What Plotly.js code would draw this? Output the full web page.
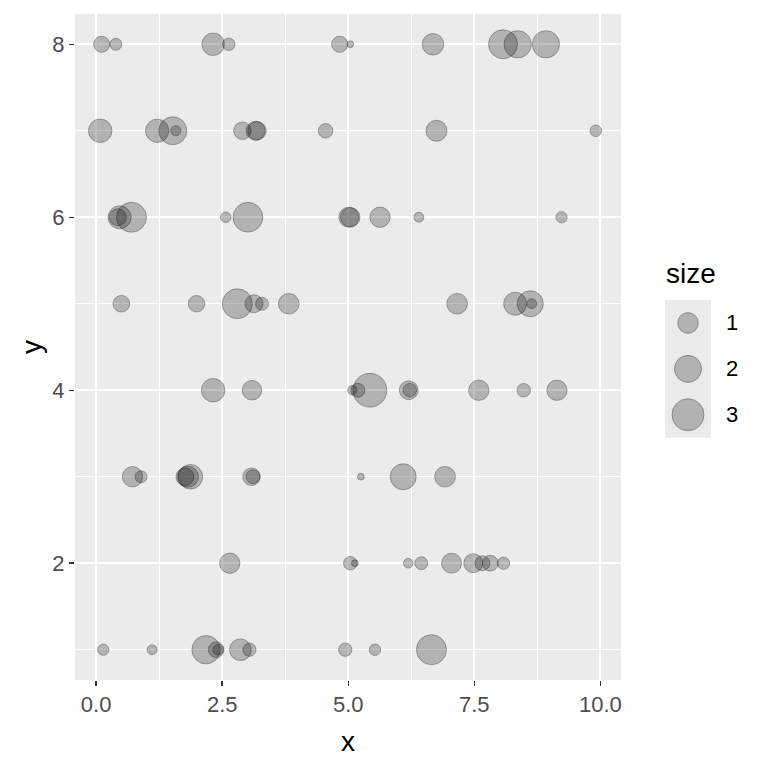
<!DOCTYPE html>
<html><head><meta charset="utf-8">
<script src="https://cdn.plot.ly/plotly-3.0.1.min.js"></script>
<style>html,body{margin:0;padding:0;background:#fff}</style>
</head><body><div id="chart" style="width:768px;height:768px"></div>
<script>
// data: x, y, size (one entry per point)
const xVals = [
  0.11, 0.39, 2.32, 2.63, 4.83, 5.04, 6.68, 8.07, 8.36, 8.92,
  0.08, 1.21, 1.52, 1.58, 2.90, 3.16, 3.19, 4.55, 6.75, 9.91,
  0.43, 0.465, 0.70, 2.57, 3.01, 5.01, 5.04, 5.63, 6.40, 9.23,
  0.50, 1.99, 2.80, 3.13, 3.29, 3.82, 7.16, 8.31, 8.61, 8.64,
  2.32, 3.09, 5.08, 5.19, 5.43, 6.20, 6.22, 7.59, 8.48, 9.14,
  0.72, 0.89, 1.76, 1.82, 1.87, 3.08, 3.11, 5.25, 6.09, 6.92,
  2.65, 5.04, 5.13, 6.19, 6.45, 7.05, 7.48, 7.66, 7.82, 8.08,
  0.14, 1.11, 2.18, 2.38, 2.42, 2.86, 3.04, 4.94, 5.53, 6.65
];
const yVals = [
  8, 8, 8, 8, 8, 8, 8, 8, 8, 8,
  7, 7, 7, 7, 7, 7, 7, 7, 7, 7,
  6, 6, 6, 6, 6, 6, 6, 6, 6, 6,
  5, 5, 5, 5, 5, 5, 5, 5, 5, 5,
  4, 4, 4, 4, 4, 4, 4, 4, 4, 4,
  3, 3, 3, 3, 3, 3, 3, 3, 3, 3,
  2, 2, 2, 2, 2, 2, 2, 2, 2, 2,
  1, 1, 1, 1, 1, 1, 1, 1, 1, 1
];
const sizeVals = [
  0.49, 0.19, 1.25, 0.22, 0.49, 0.01, 1.11, 2.36, 2.03, 2.03,
  1.39, 1.36, 2.16, 0.10, 0.63, 0.79, 0.74, 0.36, 1.04, 0.17,
  0.58, 1.32, 2.56, 0.12, 2.52, 0.91, 0.85, 0.95, 0.09, 0.15,
  0.55, 0.53, 2.56, 0.68, 0.25, 1.00, 1.00, 1.32, 1.80, 0.09,
  1.39, 0.86, 0.07, 0.32, 3.40, 0.77, 0.29, 0.95, 0.29, 0.95,
  0.95, 0.19, 0.68, 1.04, 1.55, 0.63, 0.32, 0.01, 1.80, 1.00,
  0.95, 0.29, 0.01, 0.08, 0.25, 0.91, 0.79, 0.40, 0.46, 0.21,
  0.15, 0.09, 2.24, 0.46, 0.12, 1.13, 0.27, 0.27, 0.16, 2.56
];
const legendSizes = [1, 2, 3];
const xTickVals = [0, 2.5, 5, 7.5, 10];
const xTickText = ["0.0", "2.5", "5.0", "7.5", "10.0"];
const xMinorVals = [1.25, 3.75, 6.25, 8.75];
const yTickVals = [2, 4, 6, 8];
const yTickText = ["2", "4", "6", "8"];
const yMinorVals = [1, 3, 5, 7];

const FONT = "Liberation Sans, Arial, sans-serif";
const LW = 1;
// area-like size scale (diameter in px)
function diam(s) { return 6.2 + 15.5 * Math.sqrt(s); }
const fillC = "rgba(0,0,0,0.34)";
const lineC = "rgba(0,0,0,0.45)";

const W = 768, H = 768;
const plotL = 75, plotR = 621, plotT = 14, plotB = 680;

const main = {
  type: "scatter", mode: "markers",
  x: xVals, y: yVals, xaxis: "x", yaxis: "y",
  marker: {
    size: sizeVals.map(s => diam(s) - LW),
    color: fillC,
    line: { color: lineC, width: LW }
  },
  hoverinfo: "x+y"
};

const legendTrace = {
  type: "scatter", mode: "markers",
  x: legendSizes.map(() => 0.5), y: legendSizes, xaxis: "x2", yaxis: "y2",
  marker: {
    size: legendSizes.map(s => diam(s) - LW),
    color: fillC,
    line: { color: lineC, width: LW }
  },
  hoverinfo: "skip"
};

const annotations = [
  { text: "x", xref: "paper", yref: "paper", x: (plotL + plotR) / 2 / W, y: 1 - 741 / H,
    xanchor: "center", yanchor: "middle", showarrow: false,
    font: { family: FONT, size: 28, color: "#000" } },
  { text: "y", xref: "paper", yref: "paper", x: 31 / W, y: 1 - ((plotT + plotB) / 2) / H,
    xanchor: "center", yanchor: "middle", textangle: -90, showarrow: false,
    font: { family: FONT, size: 28, color: "#000" } },
  { text: "size", xref: "paper", yref: "paper", x: 664 / W, y: 1 - 274 / H,
    xanchor: "left", yanchor: "middle", showarrow: false,
    font: { family: FONT, size: 28, color: "#000" } }
];
legendSizes.forEach(s => annotations.push({
  text: String(s), xref: "paper", yref: "y2", x: 724 / W, y: s,
  xanchor: "left", yanchor: "middle", showarrow: false,
  font: { family: FONT, size: 22, color: "#000" }
}));

const layout = {
  width: W, height: H,
  margin: { l: 0, r: 0, t: 0, b: 0 },
  paper_bgcolor: "#FFFFFF",
  plot_bgcolor: "#EBEBEB",
  showlegend: false,
  font: { family: FONT },
  xaxis: {
    domain: [plotL / W, plotR / W], anchor: "y",
    range: [-0.42, 10.41],
    tickmode: "array", tickvals: xTickVals, ticktext: xTickText,
    ticks: "outside", ticklen: 5, tickwidth: 1.5, tickcolor: "#333333",
    tickfont: { family: FONT, size: 22, color: "#4D4D4D" },
    showgrid: true, gridcolor: "#FFFFFF", gridwidth: 2,
    minor: { tickmode: "array", tickvals: xMinorVals, showgrid: true, gridcolor: "#FFFFFF", gridwidth: 1, ticks: "" },
    zeroline: false, showline: false
  },
  yaxis: {
    domain: [1 - plotB / H, 1 - plotT / H], anchor: "x",
    range: [0.65, 8.35],
    tickmode: "array", tickvals: yTickVals, ticktext: yTickText,
    ticks: "outside", ticklen: 5, tickwidth: 1.5, tickcolor: "#333333",
    tickfont: { family: FONT, size: 22, color: "#4D4D4D" },
    showgrid: true, gridcolor: "#FFFFFF", gridwidth: 2,
    minor: { tickmode: "array", tickvals: yMinorVals, showgrid: true, gridcolor: "#FFFFFF", gridwidth: 1, ticks: "" },
    zeroline: false, showline: false
  },
  xaxis2: {
    domain: [665 / W, 711 / W], anchor: "y2", range: [0, 1],
    showgrid: false, zeroline: false, showticklabels: false, ticks: "", showline: false
  },
  yaxis2: {
    domain: [1 - 437.7 / H, 1 - 300 / H], anchor: "x2", range: [3.5, 0.5],
    showgrid: false, zeroline: false, showticklabels: false, ticks: "", showline: false
  },
  annotations: annotations
};

Plotly.newPlot("chart", [main, legendTrace], layout, { staticPlot: true, displayModeBar: false });
</script>
</body></html>
